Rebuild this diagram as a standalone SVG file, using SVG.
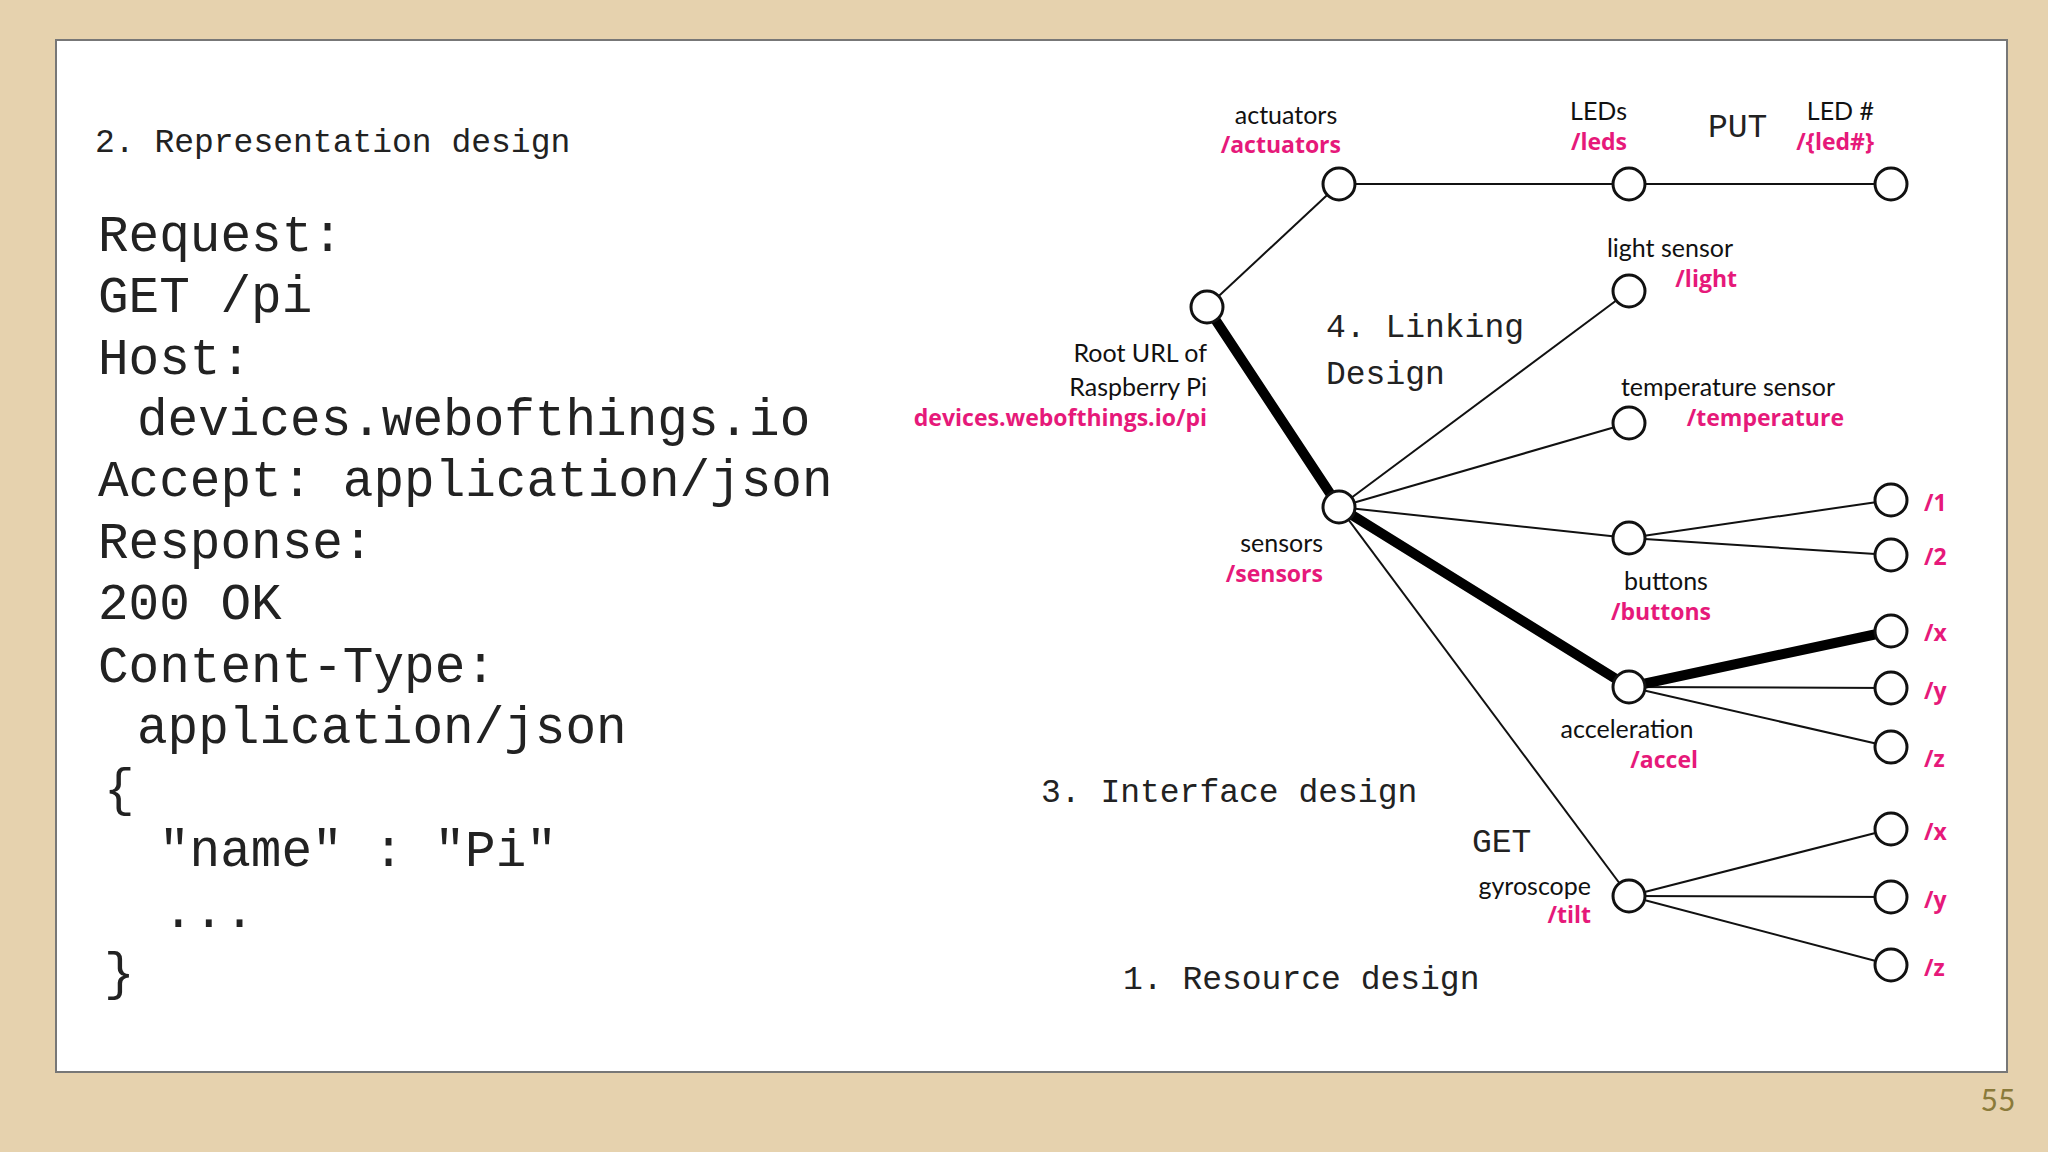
<svg xmlns="http://www.w3.org/2000/svg" width="2048" height="1152" viewBox="0 0 2048 1152">
<style>
.m{font-family:"Liberation Mono",monospace;fill:#222}
.b{font-size:51px}
.h{font-size:33px}
.l{font-family:Lato,"Open Sans",sans-serif;font-size:25px;fill:#111}
.p{font-family:"Open Sans",Lato,sans-serif;font-size:23px;font-weight:bold;fill:#e6197a}
.n{fill:#fff;stroke:#111;stroke-width:3}
.e{stroke:#111;stroke-width:2;fill:none}
.t{stroke:#000;stroke-width:10;fill:none;stroke-linecap:round}
</style>
<rect width="2048" height="1152" fill="#e6d2ae"/>
<rect x="56" y="40" width="1951" height="1032" fill="#fff" stroke="#777" stroke-width="2"/>
<text x="1998" y="1111" font-family="Lato,sans-serif" font-size="30" fill="#8a7a3a" text-anchor="middle">55</text>
<text class="m h" x="95" y="152">2. Representation design</text>
<g class="m b">
<text x="98" y="251">Request:</text>
<text x="98" y="312">GET /pi</text>
<text x="98" y="374">Host:</text>
<text x="137" y="435">devices.webofthings.io</text>
<text x="98" y="496">Accept: application/json</text>
<text x="98" y="558">Response:</text>
<text x="98" y="619">200 OK</text>
<text x="98" y="682">Content-Type:</text>
<text x="137" y="743">application/json</text>
<text x="104" y="805">{</text>
<text x="159" y="866">"name" : "Pi"</text>
<text x="163" y="927">...</text>
<text x="104" y="989">}</text>
</g>
<g id="connectors">
<line class="e" x1="1207" y1="307" x2="1339" y2="184"/>
<line class="e" x1="1339" y1="184" x2="1891" y2="184"/>
<line class="e" x1="1339" y1="507" x2="1629" y2="291"/>
<line class="e" x1="1339" y1="507" x2="1629" y2="423"/>
<line class="e" x1="1339" y1="507" x2="1629" y2="538"/>
<line class="e" x1="1629" y1="538" x2="1891" y2="500"/>
<line class="e" x1="1629" y1="538" x2="1891" y2="555"/>
<line class="e" x1="1629" y1="687" x2="1891" y2="688"/>
<line class="e" x1="1629" y1="687" x2="1891" y2="747"/>
<line class="e" x1="1339" y1="507" x2="1629" y2="896"/>
<line class="e" x1="1629" y1="896" x2="1891" y2="829"/>
<line class="e" x1="1629" y1="896" x2="1891" y2="897"/>
<line class="e" x1="1629" y1="896" x2="1891" y2="965"/>
<line class="t" x1="1207" y1="307" x2="1339" y2="507"/>
<line class="t" x1="1339" y1="507" x2="1629" y2="687"/>
<line class="t" x1="1629" y1="687" x2="1891" y2="631"/>
</g>
<g id="root"><circle class="n" cx="1207" cy="307" r="16"/><text class="l" x="1207" y="362" text-anchor="end">Root URL of</text><text class="l" x="1207" y="396" text-anchor="end">Raspberry Pi</text><text class="p" x="1207" y="426" text-anchor="end">devices.webofthings.io/pi</text></g>
<g id="actuators"><circle class="n" cx="1339" cy="184" r="16"/><text class="l" x="1286" y="124" text-anchor="middle">actuators</text><text class="p" x="1341" y="153" text-anchor="end">/actuators</text></g>
<g id="leds"><circle class="n" cx="1629" cy="184" r="16"/><text class="l" x="1627" y="120" text-anchor="end">LEDs</text><text class="p" x="1627" y="150" text-anchor="end">/leds</text></g>
<g id="led"><circle class="n" cx="1891" cy="184" r="16"/><text class="m h" x="1708" y="137">PUT</text><text class="l" x="1874" y="120" text-anchor="end">LED #</text><text class="p" x="1874" y="150" text-anchor="end">/{led#}</text></g>
<g id="light"><circle class="n" cx="1629" cy="291" r="16"/><text class="l" x="1670" y="257" text-anchor="middle">light sensor</text><text class="p" x="1737" y="287" text-anchor="end">/light</text></g>
<text class="m h" x="1326" y="337">4. Linking</text>
<text class="m h" x="1326" y="384">Design</text>
<g id="temp"><circle class="n" cx="1629" cy="423" r="16"/><text class="l" x="1728" y="396" text-anchor="middle">temperature sensor</text><text class="p" x="1844" y="426" text-anchor="end">/temperature</text></g>
<g id="sensors"><circle class="n" cx="1339" cy="507" r="16"/><text class="l" x="1323" y="552" text-anchor="end">sensors</text><text class="p" x="1323" y="582" text-anchor="end">/sensors</text></g>
<g id="buttons"><circle class="n" cx="1629" cy="538" r="16"/><text class="l" x="1666" y="590" text-anchor="middle">buttons</text><text class="p" x="1711" y="620" text-anchor="end">/buttons</text></g>
<g id="b1"><circle class="n" cx="1891" cy="500" r="16"/><text class="p" x="1924" y="511">/1</text></g>
<g id="b2"><circle class="n" cx="1891" cy="555" r="16"/><text class="p" x="1924" y="565">/2</text></g>
<g id="accel"><circle class="n" cx="1629" cy="687" r="16"/><text class="l" x="1627" y="738" text-anchor="middle">acceleration</text><text class="p" x="1698" y="768" text-anchor="end">/accel</text></g>
<g id="ax"><circle class="n" cx="1891" cy="631" r="16"/><text class="p" x="1924" y="641">/x</text></g>
<g id="ay"><circle class="n" cx="1891" cy="688" r="16"/><text class="p" x="1924" y="699">/y</text></g>
<g id="az"><circle class="n" cx="1891" cy="747" r="16"/><text class="p" x="1924" y="767">/z</text></g>
<text class="m h" x="1041" y="802">3. Interface design</text>
<g id="gyro"><circle class="n" cx="1629" cy="896" r="16"/><text class="m h" x="1472" y="852">GET</text><text class="l" x="1591" y="895" text-anchor="end">gyroscope</text><text class="p" x="1591" y="923" text-anchor="end">/tilt</text></g>
<g id="gx"><circle class="n" cx="1891" cy="829" r="16"/><text class="p" x="1924" y="840">/x</text></g>
<g id="gy"><circle class="n" cx="1891" cy="897" r="16"/><text class="p" x="1924" y="908">/y</text></g>
<g id="gz"><circle class="n" cx="1891" cy="965" r="16"/><text class="p" x="1924" y="976">/z</text></g>
<text class="m h" x="1123" y="989">1. Resource design</text>
</svg>
